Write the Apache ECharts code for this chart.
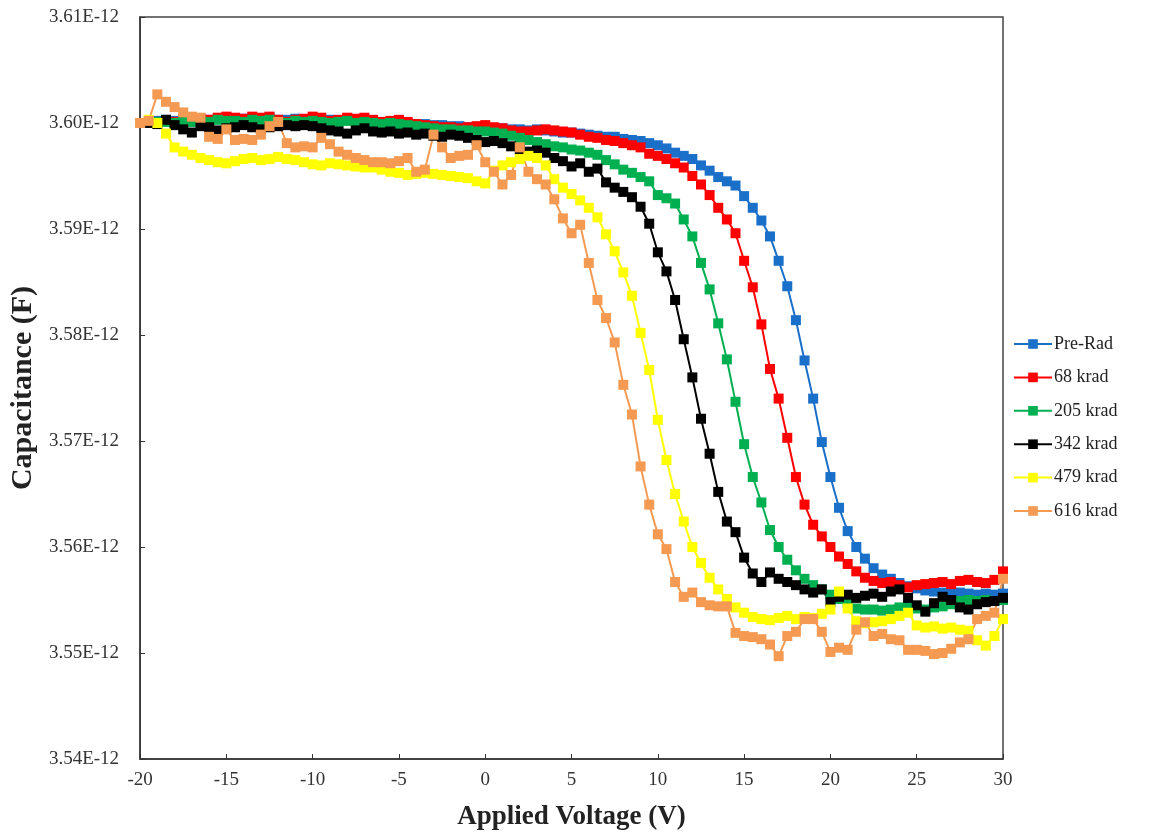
<!DOCTYPE html>
<html>
<head>
<meta charset="utf-8">
<script src="https://cdn.jsdelivr.net/npm/echarts@6/dist/echarts.min.js"></script>
<style>
  html, body { margin: 0; padding: 0; background: #fff; }
  #cv_chart { width: 1149px; height: 836px; }
</style>
</head>
<body>
<div id="cv_chart"></div>
<script>
// applied voltage, -20 V .. 30 V in 0.5 V steps
const voltage = [];
for (let i = 0; i <= 100; i++) voltage.push(-20 + i * 0.5);

// capacitance in pF (axis shows it as E-12 F)
const preRad = [
  3.6000, 3.6000, 3.6002, 3.6003, 3.6002, 3.6003, 3.6002, 3.6004, 3.6003, 3.6004,
  3.6005, 3.6004, 3.6004, 3.6005, 3.6004, 3.6005, 3.6003, 3.6003, 3.6004, 3.6003,
  3.6004, 3.6003, 3.6003, 3.6002, 3.6003, 3.6002, 3.6002, 3.6001, 3.6001, 3.6000,
  3.6001, 3.6000, 3.5999, 3.5999, 3.5998, 3.5998, 3.5997, 3.5997, 3.5996, 3.5996,
  3.5996, 3.5995, 3.5995, 3.5994, 3.5994, 3.5993, 3.5994, 3.5993, 3.5992, 3.5991,
  3.5991, 3.5990, 3.5989, 3.5988, 3.5987, 3.5987, 3.5985, 3.5984, 3.5983, 3.5981,
  3.5979, 3.5976, 3.5972, 3.5969, 3.5966, 3.5960, 3.5955, 3.5949, 3.5945, 3.5941,
  3.5931, 3.5920, 3.5908, 3.5893, 3.5870, 3.5846, 3.5814, 3.5776, 3.5740, 3.5699,
  3.5666, 3.5637, 3.5615, 3.5600, 3.5589, 3.5580, 3.5574, 3.5570, 3.5566, 3.5563,
  3.5561, 3.5559, 3.5558, 3.5557, 3.5556, 3.5557, 3.5556, 3.5555, 3.5556, 3.5555,
  3.5556
];
const krad68 = [
  3.6000, 3.6000, 3.6001, 3.6002, 3.6001, 3.6003, 3.6002, 3.6004, 3.6003, 3.6005,
  3.6006, 3.6005, 3.6004, 3.6006, 3.6005, 3.6006, 3.6003, 3.6001, 3.6003, 3.6004,
  3.6006, 3.6005, 3.6002, 3.6003, 3.6005, 3.6004, 3.6005, 3.6003, 3.6001, 3.6002,
  3.6003, 3.6001, 3.5999, 3.5998, 3.5997, 3.5996, 3.5996, 3.5995, 3.5996, 3.5997,
  3.5998, 3.5996, 3.5995, 3.5993, 3.5992, 3.5992, 3.5993, 3.5994, 3.5993, 3.5992,
  3.5991, 3.5989, 3.5987, 3.5986, 3.5984, 3.5983, 3.5981, 3.5979, 3.5977, 3.5971,
  3.5969, 3.5966, 3.5962, 3.5958, 3.5950, 3.5942, 3.5932, 3.5920, 3.5909, 3.5896,
  3.5870, 3.5845, 3.5810, 3.5768, 3.5740, 3.5703, 3.5666, 3.5640, 3.5621, 3.5610,
  3.5600, 3.5591, 3.5584, 3.5577, 3.5571, 3.5568, 3.5566, 3.5567, 3.5564, 3.5562,
  3.5564, 3.5565, 3.5566, 3.5567, 3.5565, 3.5568, 3.5569, 3.5567, 3.5566, 3.5569,
  3.5577
];
const krad205 = [
  3.6000, 3.6000, 3.6001, 3.6001, 3.6000, 3.6002, 3.6001, 3.6002, 3.6001, 3.6003,
  3.6002, 3.6002, 3.6001, 3.6003, 3.6002, 3.6003, 3.6001, 3.6000, 3.6002, 3.6001,
  3.6002, 3.6001, 3.6000, 3.6001, 3.6002, 3.6000, 3.6001, 3.6000, 3.5999, 3.6000,
  3.5999, 3.5998, 3.5997, 3.5996, 3.5995, 3.5994, 3.5994, 3.5993, 3.5993, 3.5992,
  3.5992, 3.5991, 3.5990, 3.5988, 3.5986, 3.5984, 3.5982, 3.5980, 3.5978, 3.5977,
  3.5975, 3.5974, 3.5972, 3.5970, 3.5965, 3.5961, 3.5956, 3.5953, 3.5949, 3.5945,
  3.5932, 3.5929, 3.5924, 3.5909, 3.5893, 3.5868, 3.5843, 3.5811, 3.5777, 3.5737,
  3.5697, 3.5666, 3.5642, 3.5616, 3.5600, 3.5588, 3.5578, 3.5570, 3.5564, 3.5560,
  3.5555, 3.5551, 3.5547, 3.5542, 3.5541, 3.5541, 3.5540, 3.5541, 3.5543, 3.5544,
  3.5542, 3.5541, 3.5543, 3.5544, 3.5546, 3.5549, 3.5550, 3.5549, 3.5550, 3.5549,
  3.5550
];
const krad342 = [
  3.6000, 3.6000, 3.5999, 3.6003, 3.5998, 3.5994, 3.5991, 3.5997, 3.5996, 3.5993,
  3.5995, 3.5996, 3.5998, 3.5996, 3.5994, 3.5996, 3.5997, 3.5998, 3.5997, 3.5998,
  3.5997, 3.5995, 3.5993, 3.5992, 3.5990, 3.5993, 3.5995, 3.5992, 3.5991, 3.5992,
  3.5990, 3.5991, 3.5989, 3.5990, 3.5988, 3.5987, 3.5989, 3.5988, 3.5986, 3.5984,
  3.5982, 3.5983, 3.5981, 3.5978, 3.5975, 3.5973, 3.5974, 3.5972, 3.5967, 3.5964,
  3.5959, 3.5962, 3.5954, 3.5957, 3.5944, 3.5939, 3.5935, 3.5930, 3.5921, 3.5905,
  3.5878, 3.5860, 3.5833, 3.5796, 3.5760, 3.5721, 3.5688, 3.5652, 3.5624, 3.5614,
  3.5590, 3.5575, 3.5567, 3.5576, 3.5570, 3.5567, 3.5564, 3.5560, 3.5557, 3.5560,
  3.5548, 3.5553, 3.5555, 3.5552, 3.5554, 3.5556, 3.5553, 3.5558, 3.5560, 3.5552,
  3.5545, 3.5539, 3.5547, 3.5553, 3.5550, 3.5543, 3.5541, 3.5546, 3.5548, 3.5549,
  3.5552
];
const krad479 = [
  3.6000, 3.6003, 3.6000, 3.5990, 3.5977, 3.5973, 3.5970, 3.5967, 3.5965, 3.5963,
  3.5962, 3.5964, 3.5966, 3.5967, 3.5965, 3.5966, 3.5968, 3.5966, 3.5965, 3.5963,
  3.5961, 3.5960, 3.5962, 3.5961, 3.5960, 3.5959, 3.5958, 3.5958, 3.5956, 3.5954,
  3.5953, 3.5951, 3.5952, 3.5953, 3.5952, 3.5951, 3.5950, 3.5949, 3.5948, 3.5945,
  3.5943, 3.5955, 3.5960, 3.5963, 3.5966, 3.5969, 3.5967, 3.5960, 3.5947, 3.5939,
  3.5933, 3.5927, 3.5920, 3.5911, 3.5895, 3.5879, 3.5859, 3.5837, 3.5802, 3.5767,
  3.5720, 3.5682, 3.5650, 3.5624, 3.5600, 3.5585, 3.5571, 3.5560, 3.5551, 3.5543,
  3.5538, 3.5534, 3.5532, 3.5531, 3.5533, 3.5535, 3.5532, 3.5534, 3.5533, 3.5537,
  3.5541, 3.5558, 3.5542, 3.5530, 3.5528, 3.5529, 3.5530, 3.5532, 3.5535, 3.5538,
  3.5526, 3.5524, 3.5525, 3.5523, 3.5524, 3.5522, 3.5521, 3.5512, 3.5507, 3.5516,
  3.5532
];
const krad616 = [
  3.6000, 3.6002, 3.6027, 3.6020, 3.6015, 3.6010, 3.6006, 3.6005, 3.5987, 3.5985,
  3.5994, 3.5984, 3.5985, 3.5984, 3.5989, 3.5997, 3.6001, 3.5981, 3.5977, 3.5978,
  3.5977, 3.5986, 3.5980, 3.5973, 3.5970, 3.5967, 3.5965, 3.5963, 3.5963, 3.5962,
  3.5964, 3.5967, 3.5954, 3.5956, 3.5989, 3.5977, 3.5967, 3.5969, 3.5970, 3.5979,
  3.5963, 3.5954, 3.5942, 3.5951, 3.5977, 3.5954, 3.5947, 3.5942, 3.5928, 3.5910,
  3.5896, 3.5904, 3.5868, 3.5833, 3.5816, 3.5793, 3.5753, 3.5725, 3.5676, 3.5640,
  3.5612, 3.5598, 3.5567, 3.5553, 3.5557, 3.5548, 3.5545, 3.5544, 3.5544, 3.5519,
  3.5516, 3.5515, 3.5513, 3.5508, 3.5497, 3.5516, 3.5520, 3.5532, 3.5532, 3.5520,
  3.5501, 3.5505, 3.5503, 3.5522, 3.5529, 3.5516, 3.5518, 3.5513, 3.5512, 3.5503,
  3.5503, 3.5502, 3.5499, 3.5500, 3.5504, 3.5510, 3.5513, 3.5532, 3.5535, 3.5538,
  3.5570
];

const seriesNames = ["Pre-Rad", "68 krad", "205 krad", "342 krad", "479 krad", "616 krad"];
const seriesColors = ["#1a6fc9", "#ff0000", "#00b050", "#000000", "#ffff00", "#f59a52"];
const seriesValues = [preRad, krad68, krad205, krad342, krad479, krad616];

const xTicks = { min: -20, max: 30, step: 5 };
const yTicks = { min: 3.54, max: 3.61, step: 0.01 };

const serif = "'Liberation Serif', 'Times New Roman', serif";
const chart = echarts.init(document.getElementById("cv_chart"));

const option = {
  backgroundColor: "#fff",
  animation: false,
  grid: {
    left: 139, right: 146, top: 17, bottom: 76,
    show: true, borderColor: "#444", borderWidth: 1.5
  },
  legend: {
    orient: "vertical",
    left: 1008,
    top: 330,
    itemWidth: 38,
    itemHeight: 12,
    itemGap: 15.4,
    data: seriesNames,
    textStyle: { fontFamily: serif, fontSize: 18, color: "#222", padding: [0, 0, 0, -3] }
  },
  xAxis: {
    type: "value",
    min: xTicks.min, max: xTicks.max, interval: xTicks.step,
    name: "Applied Voltage (V)",
    nameLocation: "middle",
    nameGap: 45,
    nameTextStyle: { fontFamily: serif, fontSize: 27, fontWeight: "bold", color: "#222" },
    axisLine: { onZero: false, lineStyle: { color: "#333", width: 1.5 } },
    axisTick: { inside: true, length: 5, lineStyle: { color: "#333" } },
    axisLabel: { fontFamily: serif, fontSize: 19, color: "#333", margin: 12 },
    splitLine: { show: false }
  },
  yAxis: {
    type: "value",
    min: yTicks.min, max: yTicks.max, interval: yTicks.step,
    name: "Capacitance (F)",
    nameLocation: "middle",
    nameGap: 101,
    nameTextStyle: { fontFamily: serif, fontSize: 30, fontWeight: "bold", color: "#222" },
    axisLine: { show: true, onZero: false, lineStyle: { color: "#333", width: 1.5 } },
    axisTick: { show: true, inside: true, length: 5, lineStyle: { color: "#333" } },
    axisLabel: {
      fontFamily: serif, fontSize: 19, color: "#333", margin: 21,
      formatter: (v) => v.toFixed(2) + "E-12"
    },
    splitLine: { show: false }
  },
  series: seriesNames.map((name, k) => ({
    name: name,
    type: "line",
    data: voltage.map((v, i) => [v, seriesValues[k][i]]),
    symbol: "rect",
    symbolSize: 10,
    showSymbol: true,
    lineStyle: { width: 2, color: seriesColors[k] },
    itemStyle: { color: seriesColors[k] }
  }))
};

chart.setOption(option);
</script>
</body>
</html>
